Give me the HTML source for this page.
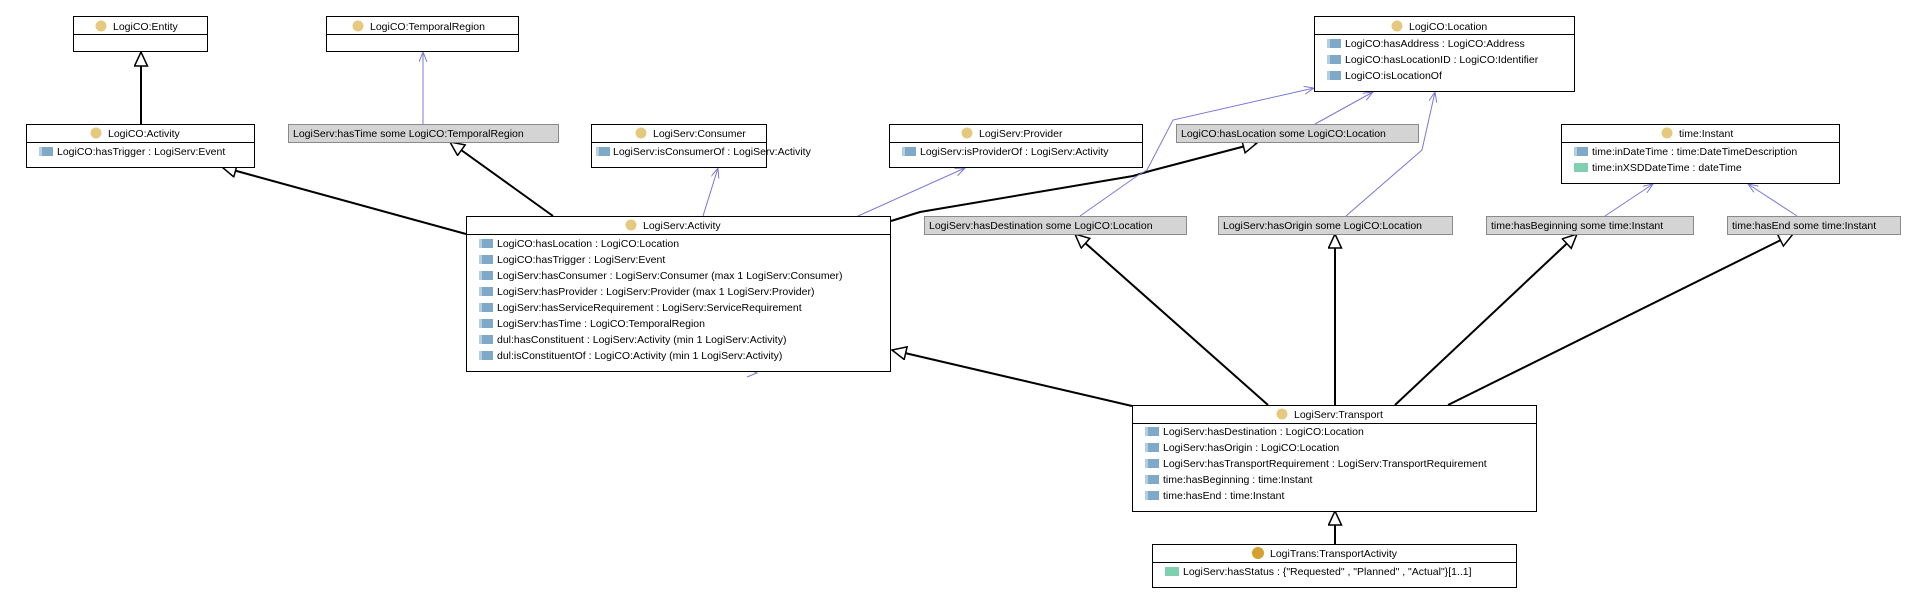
<!DOCTYPE html>
<html><head><meta charset="utf-8"><style>
html,body{margin:0;padding:0;background:#fff;}
svg{display:block;}
text{font-family:"Liberation Sans",sans-serif;font-size:10.5px;fill:#000;}
.hd{text-anchor:middle;}
.box{fill:#fff;stroke:#000;stroke-width:1;}
.lbl{fill:#d4d4d4;stroke:#8a8a8a;stroke-width:1;}
.inh{stroke:#000;stroke-width:2;fill:none;}
.ref{stroke:#7b78d6;stroke-width:1;fill:none;}
</style></head><body>
<svg width="1919" height="600" viewBox="0 0 1919 600" xmlns="http://www.w3.org/2000/svg">
<defs>
<marker id="tri" markerUnits="userSpaceOnUse" markerWidth="18" markerHeight="16" refX="15" refY="7" orient="auto"><path d="M1,0.5 L15,7 L1,13.5 z" fill="#fff" stroke="#000" stroke-width="1.5"/></marker>
<marker id="opn" markerUnits="userSpaceOnUse" markerWidth="12" markerHeight="10" refX="10" refY="4" orient="auto"><path d="M0,0 L10,4 L0,8" fill="none" stroke="#7b78d6" stroke-width="1"/></marker>
<g id="ob"><rect x="0" y="0" width="14" height="9" fill="#7fa9c9"/><rect x="0" y="0" width="3" height="9" fill="#b5cfe0"/></g>
<g id="dp"><rect x="0" y="0" width="14" height="9" fill="#7fcfb0"/></g>
</defs>

<line class="inh" x1="141" y1="124" x2="141" y2="52" marker-end="url(#tri)"/>
<line class="inh" x1="466" y1="234" x2="222" y2="167" marker-end="url(#tri)"/>
<line class="inh" x1="553" y1="216" x2="450" y2="142" marker-end="url(#tri)"/>
<polyline class="inh" points="891,221 920,212 1133,176 1150,171 1257,143" marker-end="url(#tri)"/>
<line class="inh" x1="1132" y1="406" x2="892" y2="350" marker-end="url(#tri)"/>
<line class="inh" x1="1268" y1="405" x2="1075" y2="234" marker-end="url(#tri)"/>
<line class="inh" x1="1335" y1="405" x2="1335" y2="234" marker-end="url(#tri)"/>
<line class="inh" x1="1395" y1="405" x2="1577" y2="234" marker-end="url(#tri)"/>
<line class="inh" x1="1448" y1="405" x2="1793" y2="234" marker-end="url(#tri)"/>
<line class="inh" x1="1335" y1="544" x2="1335" y2="511" marker-end="url(#tri)"/>

<line class="ref" x1="423" y1="124" x2="423" y2="52" marker-end="url(#opn)"/>
<line class="ref" x1="703" y1="216" x2="718" y2="168" marker-end="url(#opn)"/>
<line class="ref" x1="858" y1="216" x2="965" y2="168" marker-end="url(#opn)"/>
<polyline class="ref" points="1080,216 1137,176 1147,170 1173,120 1314,88" marker-end="url(#opn)"/>
<line class="ref" x1="1315" y1="124" x2="1373" y2="92" marker-end="url(#opn)"/>
<polyline class="ref" points="1346,216 1422,150 1435,92" marker-end="url(#opn)"/>
<line class="ref" x1="1605" y1="216" x2="1653" y2="184" marker-end="url(#opn)"/>
<line class="ref" x1="1797" y1="216" x2="1748" y2="184" marker-end="url(#opn)"/>
<polyline class="ref" points="747,369 757,373 747,377"/>

<rect class="box" x="73.5" y="16.5" width="134" height="35"/>
<line x1="73" y1="34.5" x2="208" y2="34.5" stroke="#000"/>
<circle cx="101" cy="26" r="5.5" fill="#e5c97e"/>
<text x="113" y="30">LogiCO:Entity</text>

<rect class="box" x="326.5" y="16.5" width="192" height="35"/>
<line x1="326" y1="34.5" x2="519" y2="34.5" stroke="#000"/>
<circle cx="358" cy="26" r="5.5" fill="#e5c97e"/>
<text x="370" y="30">LogiCO:TemporalRegion</text>

<rect class="box" x="26.5" y="124.5" width="228" height="43"/>
<line x1="26" y1="142.5" x2="255" y2="142.5" stroke="#000"/>
<circle cx="96" cy="133" r="5.5" fill="#e5c97e"/>
<text x="108" y="137">LogiCO:Activity</text>
<use href="#ob" x="39" y="147"/>
<text x="57" y="155">LogiCO:hasTrigger : LogiServ:Event</text>

<rect class="lbl" x="288.5" y="124.5" width="270" height="18"/>
<text x="293" y="137">LogiServ:hasTime some LogiCO:TemporalRegion</text>

<rect class="box" x="591.5" y="124.5" width="175" height="43"/>
<line x1="591" y1="142.5" x2="767" y2="142.5" stroke="#000"/>
<circle cx="641" cy="133" r="5.5" fill="#e5c97e"/>
<text x="653" y="137">LogiServ:Consumer</text>
<use href="#ob" x="596" y="147"/>
<text x="613" y="155">LogiServ:isConsumerOf : LogiServ:Activity</text>

<rect class="box" x="889.5" y="124.5" width="253" height="43"/>
<line x1="889" y1="142.5" x2="1143" y2="142.5" stroke="#000"/>
<circle cx="967" cy="133" r="5.5" fill="#e5c97e"/>
<text x="979" y="137">LogiServ:Provider</text>
<use href="#ob" x="902" y="147"/>
<text x="920" y="155">LogiServ:isProviderOf : LogiServ:Activity</text>

<rect class="lbl" x="1176.5" y="124.5" width="242" height="18"/>
<text x="1181" y="137">LogiCO:hasLocation some LogiCO:Location</text>

<rect class="box" x="1314.5" y="16.5" width="260" height="75"/>
<line x1="1314" y1="34.5" x2="1575" y2="34.5" stroke="#000"/>
<circle cx="1397" cy="26" r="5.5" fill="#e5c97e"/>
<text x="1409" y="30">LogiCO:Location</text>
<use href="#ob" x="1327" y="39"/><text x="1345" y="47">LogiCO:hasAddress : LogiCO:Address</text>
<use href="#ob" x="1327" y="55"/><text x="1345" y="63">LogiCO:hasLocationID : LogiCO:Identifier</text>
<use href="#ob" x="1327" y="71"/><text x="1345" y="79">LogiCO:isLocationOf</text>

<rect class="box" x="1561.5" y="124.5" width="278" height="59"/>
<line x1="1561" y1="142.5" x2="1840" y2="142.5" stroke="#000"/>
<circle cx="1667" cy="133" r="5.5" fill="#e5c97e"/>
<text x="1679" y="137">time:Instant</text>
<use href="#ob" x="1574" y="147"/><text x="1592" y="155">time:inDateTime : time:DateTimeDescription</text>
<use href="#dp" x="1574" y="163"/><text x="1592" y="171">time:inXSDDateTime : dateTime</text>

<rect class="box" x="466.5" y="216.5" width="424" height="155"/>
<line x1="466" y1="234.5" x2="891" y2="234.5" stroke="#000"/>
<circle cx="631" cy="225" r="5.5" fill="#e5c97e"/>
<text x="643" y="229">LogiServ:Activity</text>
<use href="#ob" x="479" y="239"/><text x="497" y="247">LogiCO:hasLocation : LogiCO:Location</text>
<use href="#ob" x="479" y="255"/><text x="497" y="263">LogiCO:hasTrigger : LogiServ:Event</text>
<use href="#ob" x="479" y="271"/><text x="497" y="279">LogiServ:hasConsumer : LogiServ:Consumer (max 1 LogiServ:Consumer)</text>
<use href="#ob" x="479" y="287"/><text x="497" y="295">LogiServ:hasProvider : LogiServ:Provider (max 1 LogiServ:Provider)</text>
<use href="#ob" x="479" y="303"/><text x="497" y="311">LogiServ:hasServiceRequirement : LogiServ:ServiceRequirement</text>
<use href="#ob" x="479" y="319"/><text x="497" y="327">LogiServ:hasTime : LogiCO:TemporalRegion</text>
<use href="#ob" x="479" y="335"/><text x="497" y="343">dul:hasConstituent : LogiServ:Activity (min 1 LogiServ:Activity)</text>
<use href="#ob" x="479" y="351"/><text x="497" y="359">dul:isConstituentOf : LogiCO:Activity (min 1 LogiServ:Activity)</text>

<rect class="lbl" x="924.5" y="216.5" width="262" height="18"/>
<text x="929" y="229">LogiServ:hasDestination some LogiCO:Location</text>
<rect class="lbl" x="1218.5" y="216.5" width="234" height="18"/>
<text x="1223" y="229">LogiServ:hasOrigin some LogiCO:Location</text>
<rect class="lbl" x="1486.5" y="216.5" width="207" height="18"/>
<text x="1491" y="229">time:hasBeginning some time:Instant</text>
<rect class="lbl" x="1727.5" y="216.5" width="173" height="18"/>
<text x="1732" y="229">time:hasEnd some time:Instant</text>

<rect class="box" x="1132.5" y="405.5" width="404" height="106"/>
<line x1="1132" y1="423.5" x2="1537" y2="423.5" stroke="#000"/>
<circle cx="1282" cy="414" r="5.5" fill="#e5c97e"/>
<text x="1294" y="418">LogiServ:Transport</text>
<use href="#ob" x="1145" y="427"/><text x="1163" y="435">LogiServ:hasDestination : LogiCO:Location</text>
<use href="#ob" x="1145" y="443"/><text x="1163" y="451">LogiServ:hasOrigin : LogiCO:Location</text>
<use href="#ob" x="1145" y="459"/><text x="1163" y="467">LogiServ:hasTransportRequirement : LogiServ:TransportRequirement</text>
<use href="#ob" x="1145" y="475"/><text x="1163" y="483">time:hasBeginning : time:Instant</text>
<use href="#ob" x="1145" y="491"/><text x="1163" y="499">time:hasEnd : time:Instant</text>

<rect class="box" x="1152.5" y="544.5" width="364" height="43"/>
<line x1="1152" y1="562.5" x2="1517" y2="562.5" stroke="#000"/>
<circle cx="1258" cy="553" r="6" fill="#d4a030"/>
<text x="1270" y="557">LogiTrans:TransportActivity</text>
<use href="#dp" x="1165" y="567"/><text x="1183" y="575">LogiServ:hasStatus : {"Requested" , "Planned" , "Actual"}[1..1]</text>
</svg>
</body></html>
